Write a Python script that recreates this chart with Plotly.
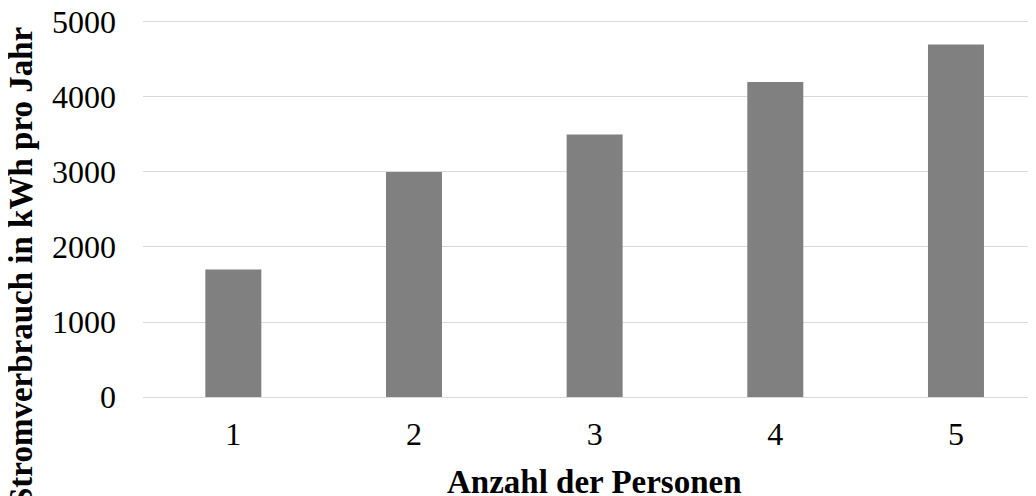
import plotly.graph_objects as go

categories = ["1", "2", "3", "4", "5"]
values = [1700, 3000, 3500, 4200, 4700]
y_ticks = [0, 1000, 2000, 3000, 4000, 5000]
x_title = "Anzahl der Personen"
y_title = "Stromverbrauch in kWh pro Jahr"

FONT = "Liberation Serif, Times New Roman, serif"

fig = go.Figure()
fig.add_trace(go.Bar(
    x=categories, y=values,
    marker=dict(color="#808080", line=dict(width=0)),
))

fig.update_layout(
    width=1028, height=488,
    margin=dict(l=135, r=0, t=10, b=99),
    paper_bgcolor="white", plot_bgcolor="white",
    bargap=0.69,
    showlegend=False,
    font=dict(family=FONT, size=32, color="black"),
    xaxis=dict(
        type="category",
        range=[-0.5, 4.443],
        automargin=False,
        showgrid=False, zeroline=False, showline=False,
        ticks="", ticklabelstandoff=15,
        ticklabeloverflow="allow",
        tickfont=dict(family=FONT, size=32, color="black"),
    ),
    yaxis=dict(
        range=[0, 5053],
        tickvals=y_ticks,
        automargin=False,
        showgrid=True, gridcolor="#d9d9d9", gridwidth=1,
        zeroline=True, zerolinecolor="#d9d9d9", zerolinewidth=1,
        showline=False, ticks="", ticklabelstandoff=26,
        ticklabeloverflow="allow",
        tickfont=dict(family=FONT, size=32, color="black"),
    ),
    annotations=[
        dict(text="<b>" + x_title + "</b>", x=2, xref="x",
             y=-0.2243, yref="paper", xanchor="center", yanchor="middle",
             showarrow=False, font=dict(family=FONT, size=33, color="black")),
        dict(text="<b>" + y_title + "</b>", x=-0.1366, xref="paper",
             y=0.3431, yref="paper", xanchor="center", yanchor="middle",
             textangle=-90, showarrow=False,
             font=dict(family=FONT, size=33, color="black")),
    ],
)

fig.write_html("out.html")
